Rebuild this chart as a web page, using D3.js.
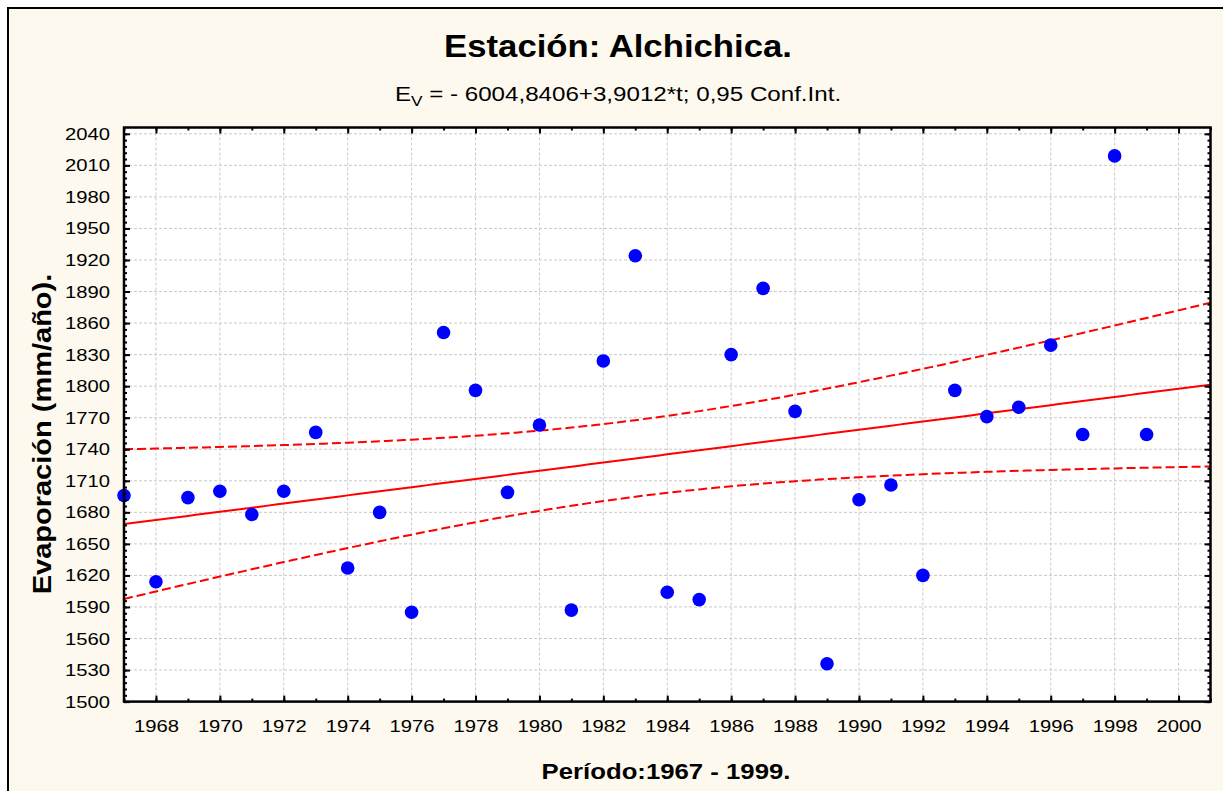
<!DOCTYPE html>
<html>
<head>
<meta charset="utf-8">
<script src="https://cdn.jsdelivr.net/npm/d3@7"></script>
<style>
  body { margin: 0; background: #ffffff; }
  svg { display: block; }
  text { font-family: "Liberation Sans", Arial, sans-serif; fill: #000; }
</style>
</head>
<body>
<svg id="chart" width="1223" height="791"></svg>
<script>
// Annual evaporation at the Alchichica station
const years = [1967, 1968, 1969, 1970, 1971, 1972, 1973, 1974, 1975, 1976, 1977,
               1978, 1979, 1980, 1981, 1982, 1983, 1984, 1985, 1986, 1987, 1988,
               1989, 1990, 1991, 1992, 1993, 1994, 1995, 1996, 1997, 1998, 1999];
const evaporation = [1696, 1614, 1694, 1700, 1678, 1700, 1756, 1627, 1680, 1585, 1851,
                     1796, 1699, 1763, 1587, 1824, 1924, 1604, 1597, 1830, 1893, 1776,
                     1536, 1692, 1706, 1620, 1796, 1771, 1780, 1839, 1754, 2019, 1754];

// Axis ticks
const xTickYears = [1968, 1970, 1972, 1974, 1976, 1978, 1980, 1982, 1984, 1986, 1988,
                    1990, 1992, 1994, 1996, 1998, 2000];
const yTickValues = [1500, 1530, 1560, 1590, 1620, 1650, 1680, 1710, 1740, 1770, 1800,
                     1830, 1860, 1890, 1920, 1950, 1980, 2010, 2040];

// Fitted trend  E_V = a + b*t  and 95 % confidence band
const intercept = -6004.8406;
const slope = 3.9012;
const tCrit = 2.0395;   // Student t, 0.975, df = 31

const titleText = "Estación: Alchichica.";
const xTitle = "Período:1967 - 1999.";
const yTitle = "Evaporación (mm/año).";

const svg = d3.select("#chart");
const W = 1223, H = 791;
const plot = { left: 124, right: 1210.5, top: 127.5, bottom: 701.6 };
const SX = 1.17; // horizontal stretch applied to the lettering

const x = d3.scaleLinear().domain([1967, 2001]).range([plot.left, plot.right]);
const y = d3.scaleLinear().domain([1500, 2046]).range([plot.bottom, plot.top]);

// page background with frame
svg.append("rect").attr("x", 0).attr("y", 0).attr("width", W).attr("height", H).attr("fill", "#ffffff");
svg.append("rect").attr("x", 8).attr("y", 8).attr("width", W + 40).attr("height", H + 40)
  .attr("fill", "#fef9ee").attr("stroke", "#000").attr("stroke-width", 2);

// plot background
svg.append("rect")
  .attr("x", plot.left).attr("y", plot.top)
  .attr("width", plot.right - plot.left).attr("height", plot.bottom - plot.top)
  .attr("fill", "#ffffff");

// grid
const grid = svg.append("g").attr("stroke", "#c9c9c9").attr("stroke-width", 1).attr("stroke-dasharray", "3,2");
grid.selectAll("line.v").data(xTickYears).join("line")
  .attr("x1", d => x(d)).attr("x2", d => x(d))
  .attr("y1", plot.top).attr("y2", plot.bottom);
grid.selectAll("line.h").data(yTickValues.filter(v => v > 1500)).join("line")
  .attr("y1", d => y(d)).attr("y2", d => y(d))
  .attr("x1", plot.left).attr("x2", plot.right);

// clip region for the fitted lines
svg.append("clipPath").attr("id", "plotClip").append("rect")
  .attr("x", plot.left).attr("y", plot.top)
  .attr("width", plot.right - plot.left).attr("height", plot.bottom - plot.top);

// regression statistics
const n = years.length;
const xbar = d3.mean(years);
const sxx = d3.sum(years, t => (t - xbar) * (t - xbar));
const fit = t => intercept + slope * t;
const sse = d3.sum(years, (t, i) => Math.pow(evaporation[i] - fit(t), 2));
const s = Math.sqrt(sse / (n - 2));
const half = t => tCrit * s * Math.sqrt(1 / n + (t - xbar) * (t - xbar) / sxx);

const tSamples = d3.range(1967, 2001.001, 0.25);
const lineGen = f => d3.line().x(t => x(t)).y(t => y(f(t)))(tSamples);

const lines = svg.append("g").attr("clip-path", "url(#plotClip)").attr("fill", "none").attr("stroke", "#ff0000");
lines.append("path").attr("d", lineGen(fit)).attr("stroke-width", 2);
lines.append("path").attr("d", lineGen(t => fit(t) + half(t))).attr("stroke-width", 2).attr("stroke-dasharray", "9,4");
lines.append("path").attr("d", lineGen(t => fit(t) - half(t))).attr("stroke-width", 2).attr("stroke-dasharray", "9,4");

// data points
svg.append("g").selectAll("circle").data(years).join("circle")
  .attr("cx", d => x(d))
  .attr("cy", (d, i) => y(evaporation[i]))
  .attr("r", 6.8)
  .attr("fill", "#0000ff");

// axes
const yMinor = d3.range(1500, 2046, 6);
const xMinor = d3.range(1967, 2002, 1);
function styleAxis(g) {
  g.select(".domain").remove();
  g.selectAll(".tick line").attr("stroke", "#000").attr("stroke-width", 2);
}
// bottom
const gx = svg.append("g").attr("transform", `translate(0,${plot.bottom})`)
  .call(d3.axisBottom(x).tickValues(xTickYears).tickFormat(d3.format("d")).tickSize(-6).tickPadding(18.5));
styleAxis(gx);
gx.selectAll("text").attr("font-size", 17.3).attr("transform", `scale(${SX},1)`).style("font-family", '"Liberation Sans", Arial, sans-serif');
svg.append("g").attr("transform", `translate(0,${plot.bottom})`)
  .call(d3.axisBottom(x).tickValues(xMinor).tickFormat("").tickSize(-3)).call(styleAxis);
// top
svg.append("g").attr("transform", `translate(0,${plot.top})`)
  .call(d3.axisTop(x).tickValues(xTickYears).tickFormat("").tickSize(-6)).call(styleAxis);
svg.append("g").attr("transform", `translate(0,${plot.top})`)
  .call(d3.axisTop(x).tickValues(xMinor).tickFormat("").tickSize(-3)).call(styleAxis);
// left
const gy = svg.append("g").attr("transform", `translate(${plot.left},0)`)
  .call(d3.axisLeft(y).tickValues(yTickValues).tickFormat(d3.format("d")).tickSize(-6).tickPadding(12));
styleAxis(gy);
gy.selectAll("text").attr("font-size", 17.3).attr("transform", `scale(${SX},1)`).style("font-family", '"Liberation Sans", Arial, sans-serif');
svg.append("g").attr("transform", `translate(${plot.left},0)`)
  .call(d3.axisLeft(y).tickValues(yMinor).tickFormat("").tickSize(-3)).call(styleAxis);
// right
svg.append("g").attr("transform", `translate(${plot.right},0)`)
  .call(d3.axisRight(y).tickValues(yTickValues).tickFormat("").tickSize(-6)).call(styleAxis);
svg.append("g").attr("transform", `translate(${plot.right},0)`)
  .call(d3.axisRight(y).tickValues(yMinor).tickFormat("").tickSize(-3)).call(styleAxis);

// plot frame
svg.append("rect")
  .attr("x", plot.left).attr("y", plot.top)
  .attr("width", plot.right - plot.left).attr("height", plot.bottom - plot.top)
  .attr("fill", "none").attr("stroke", "#000").attr("stroke-width", 2.5);

// titles
function label(px, py, txt, size, weight, stretch, rotate) {
  const t = svg.append("text")
    .attr("transform", rotate
      ? `translate(${px},${py}) rotate(-90) scale(${stretch},1)`
      : `translate(${px},${py}) scale(${stretch},1)`)
    .attr("text-anchor", "middle")
    .attr("font-size", size)
    .attr("font-weight", weight);
  t.text(txt);
  return t;
}
label(618, 57, titleText, 31, "bold", 1.12);
label(666, 779, xTitle, 22, "bold", 1.17);
label(51, 434, yTitle, 25, "bold", 1.16, true);

// subtitle with subscript
const sub = svg.append("text")
  .attr("transform", `translate(618,101) scale(1.15,1)`)
  .attr("text-anchor", "middle")
  .attr("font-size", 21);
sub.append("tspan").text("E");
sub.append("tspan").attr("font-size", 15).attr("dy", 5).text("V");
sub.append("tspan").attr("dy", -5).text(" = - 6004,8406+3,9012*t; 0,95 Conf.Int.");
</script>
</body>
</html>
